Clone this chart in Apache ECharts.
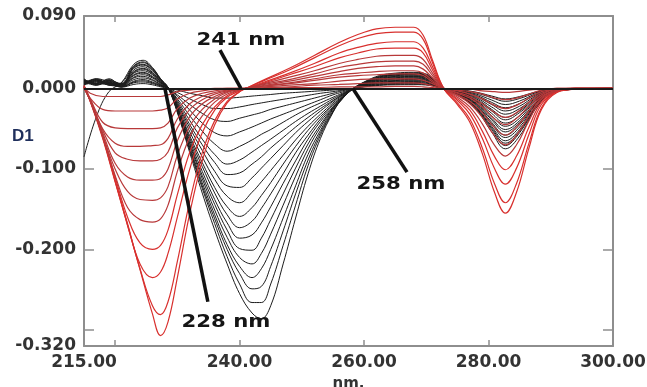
<!DOCTYPE html>
<html><head><meta charset="utf-8">
<script src="https://cdn.jsdelivr.net/npm/echarts@6/dist/echarts.min.js"></script>
<style>html,body{margin:0;padding:0;background:#fff}#c{width:647px;height:387px}</style>
</head><body><div id="c"></div>
<script>
const xTickValues = [220, 240, 260, 280];
const xLabelValues = [215, 240, 260, 280, 300];
const yTickValues = [-0.3, -0.2, -0.1];
const yLabelValues = [0.09, 0, -0.1, -0.2, -0.32];

const wavelengthsRed = [215, 216, 218, 220, 222, 224, 226, 227.3, 228.5, 230, 232, 234, 236, 238, 240, 241, 244, 248, 252, 256, 259, 262, 265, 268, 269.5, 271, 272.8, 275, 277, 279, 281, 282.7, 284.5, 286.5, 288.5, 291, 294, 300];
const redCurves = [
 [.004,-.015,-.06,-.115,-.17,-.225,-.28,-.307,-.29,-.235,-.155,-.09,-.045,-.018,-.004, 0,.011,.025,.041,.057,.067,.074,.076,.076,.066,.035,0, -.020,-.042,-.081,-.130,-.155,-.129,-.074,-.026,-.005,-.001,0],
 [.002,-.016,-.062,-.116,-.17,-.224,-.27,-.281,-.265,-.215,-.14,-.08,-.04,-.016,-.004, 0,.010,.023,.038,.053,.062,.068,.070,.070,.061,.032,0, -.018,-.038,-.074,-.119,-.142,-.118,-.068,-.024,-.004,-.001,0],
 [.003,-.014,-.06,-.114,-.168,-.218,-.235,-.228,-.205,-.16,-.1,-.055,-.027,-.011,-.003, 0,.008,.019,.031,.044,.051,.056,.058,.058,.050,.027,0, -.015,-.032,-.062,-.100,-.119,-.099,-.057,-.020,-.004,-.001,0],
 [0,-.015,-.058,-.11,-.16,-.192,-.2,-.195,-.176,-.132,-.079,-.045,-.023,-.009,-.002, 0,.007,.017,.027,.038,.044,.049,.050,.050,.044,.023,0, -.013,-.027,-.053,-.085,-.101,-.084,-.048,-.017,-.003,-.001,0],
 [.002,-.016,-.06,-.108,-.148,-.163,-.166,-.162,-.145,-.103,-.06,-.034,-.017,-.007,-.002, 0,.006,.014,.022,.031,.036,.040,.041,.041,.036,.019,0, -.011,-.023,-.044,-.071,-.084,-.070,-.040,-.014,-.003,0,0],
 [.001,-.015,-.058,-.1,-.128,-.138,-.139,-.136,-.122,-.083,-.047,-.026,-.013,-.005,-.001, 0,.005,.011,.018,.026,.030,.033,.034,.034,.030,.016,0, -.009,-.019,-.036,-.059,-.070,-.058,-.034,-.012,-.002,0,0],
 [.003,-.014,-.055,-.093,-.11,-.114,-.114,-.112,-.1,-.065,-.035,-.019,-.01,-.004,-.001, 0,.004,.009,.015,.021,.025,.027,.028,.028,.024,.013,0, -.008,-.016,-.030,-.049,-.058,-.048,-.028,-.010,-.002,0,0],
 [.002,-.015,-.052,-.08,-.088,-.09,-.09,-.088,-.079,-.049,-.026,-.014,-.007,-.003,-.001, 0,.003,.007,.012,.017,.019,.021,.022,.022,.019,.010,0, -.006,-.012,-.023,-.038,-.045,-.037,-.022,-.008,-.001,0,0],
 [.001,-.014,-.05,-.068,-.072,-.072,-.071,-.07,-.062,-.038,-.019,-.01,-.005,-.002,-.001, 0,.003,.006,.010,.014,.016,.017,.018,.018,.016,.008,0, -.005,-.010,-.019,-.030,-.036,-.030,-.017,-.006,-.001,0,0],
 [.002,-.013,-.042,-.049,-.05,-.05,-.05,-.049,-.043,-.025,-.012,-.006,-.003,-.001,0, 0,.002,.004,.006,.009,.011,.012,.012,.012,.010,.006,0, -.003,-.007,-.013,-.021,-.025,-.021,-.012,-.004,-.001,0,0],
 [.001,-.012,-.026,-.028,-.028,-.028,-.028,-.027,-.024,-.013,-.006,-.003,-.001,0,0, 0,.001,.002,.004,.005,.006,.007,.007,.007,.006,.003,0, -.002,-.004,-.007,-.012,-.014,-.012,-.007,-.002,0,0,0],
 [.002,-.006,-.01,-.01,-.01,-.01,-.01,-.01,-.008,-.004,-.002,-.001,0,0,0, 0,0,.001,.001,.002,.002,.002,.0025,.0025,.002,.001,0, -.001,-.001,-.003,-.004,-.005,-.004,-.002,-.001,0,0,0]
];

const wavelengthsBlack = [215, 217, 219, 221, 223, 224.5, 226, 227.3, 228.5, 230, 232, 234, 236, 238, 240, 242, 243.5, 245, 247, 249, 251, 253, 255, 256.5, 258.3, 260, 262.5, 265, 268, 270.5, 272.5, 275, 278, 280.5, 282.7, 285, 287.5, 290, 294, 300];
const blackCurves = [
 [-.085,-.035,-.004,.007,.03,.035,.026,.012,.001, -.03,-.08,-.13,-.176,-.218,-.255,-.279,-.286,-.27,-.218,-.161,-.106,-.062,-.03,-.012,0, .008,.016,.019,.02,.016,0, -.0075,-.026,-.054,-.075,-.059,-.026,-.007,-.001,0],
 [.006,.011,.004,.007,.028,.033,.025,.012,.001, -.029,-.077,-.124,-.168,-.209,-.243,-.266,-.266,-.243,-.195,-.145,-.096,-.058,-.029,-.013,0, .0076,.015,.018,.019,.015,0, -.007,-.025,-.051,-.071,-.055,-.025,-.006,-.001,0],
 [.009,.007,.01,.006,.027,.032,.024,.011,.001, -.028,-.075,-.121,-.162,-.2,-.23,-.249,-.246,-.221,-.177,-.131,-.089,-.055,-.028,-.013,0, .0072,.0144,.017,.018,.0144,0, -.007,-.024,-.049,-.068,-.053,-.024,-.006,-.001,0],
 [.012,.005,.008,.006,.026,.03,.023,.011,.001, -.028,-.073,-.117,-.157,-.194,-.221,-.235,-.224,-.2,-.161,-.121,-.082,-.052,-.026,-.012,0, .007,.014,.0166,.0175,.014,0, -.0065,-.023,-.047,-.065,-.051,-.023,-.006,-.001,0],
 [.004,.012,.006,.006,.025,.029,.022,.01,.001, -.026,-.07,-.112,-.151,-.185,-.21,-.218,-.205,-.181,-.145,-.109,-.075,-.048,-.025,-.012,0, .0066,.0133,.0158,.0166,.0133,0, -.006,-.021,-.044,-.061,-.048,-.021,-.0055,-.001,0],
 [.008,.009,.005,.005,.023,.027,.02,.009,.001, -.025,-.068,-.108,-.144,-.176,-.199,-.201,-.186,-.163,-.131,-.099,-.069,-.045,-.024,-.012,0, .0063,.0126,.0149,.0157,.0126,0, -.006,-.02,-.042,-.058,-.045,-.02,-.005,-.001,0],
 [.01,.006,.011,.005,.021,.025,.019,.009,.001, -.024,-.065,-.103,-.138,-.167,-.186,-.182,-.167,-.147,-.118,-.09,-.063,-.041,-.023,-.011,0, .006,.012,.0142,.0149,.012,0, -.0055,-.019,-.039,-.054,-.042,-.019,-.005,-.001,0],
 [.005,.01,.007,.005,.02,.024,.018,.008,.001, -.023,-.062,-.097,-.13,-.157,-.173,-.165,-.149,-.131,-.106,-.08,-.058,-.038,-.021,-.011,0, .0056,.0112,.0133,.014,.0112,0, -.005,-.018,-.037,-.051,-.04,-.018,-.0045,-.001,0],
 [.011,.004,.009,.004,.019,.022,.017,.008,.001, -.022,-.059,-.092,-.123,-.147,-.159,-.148,-.133,-.117,-.094,-.072,-.052,-.035,-.02,-.01,0, .0052,.0105,.0124,.0131,.0105,0, -.0047,-.016,-.034,-.047,-.037,-.016,-.004,-.0005,0],
 [.007,.011,.005,.004,.017,.02,.015,.007,.0005, -.02,-.054,-.085,-.113,-.134,-.142,-.129,-.116,-.102,-.083,-.064,-.047,-.032,-.018,-.009,0, .0049,.0098,.0116,.0122,.0098,0, -.0043,-.015,-.031,-.043,-.034,-.015,-.004,-.0005,0],
 [.009,.006,.012,.004,.016,.019,.014,.007,.0005, -.019,-.049,-.077,-.103,-.121,-.123,-.111,-.099,-.087,-.071,-.055,-.041,-.028,-.016,-.008,0, .0045,.009,.0106,.0112,.009,0, -.004,-.014,-.028,-.039,-.03,-.014,-.0035,-.0005,0],
 [.005,.009,.007,.003,.014,.017,.013,.006,.0005, -.017,-.045,-.07,-.092,-.107,-.105,-.094,-.085,-.074,-.061,-.048,-.036,-.025,-.015,-.008,0, .0041,.0082,.0098,.0103,.0082,0, -.0036,-.0126,-.026,-.036,-.028,-.0126,-.0032,-.0004,0],
 [.01,.005,.008,.003,.013,.015,.011,.005,.0005, -.015,-.04,-.063,-.082,-.094,-.089,-.079,-.071,-.063,-.052,-.041,-.031,-.022,-.013,-.007,0, .0038,.0075,.0089,.0094,.0075,0, -.0032,-.0112,-.023,-.032,-.025,-.0112,-.0029,-.0003,0],
 [.006,.01,.004,.003,.011,.013,.01,.0045,.0004, -.013,-.034,-.053,-.069,-.078,-.072,-.064,-.057,-.051,-.042,-.033,-.025,-.018,-.011,-.006,0, .0034,.0068,.0081,.0085,.0068,0, -.0028,-.0098,-.02,-.028,-.022,-.0098,-.0025,-.0003,0],
 [.008,.004,.01,.002,.009,.011,.008,.004,.0003, -.01,-.027,-.043,-.055,-.059,-.054,-.048,-.043,-.038,-.032,-.026,-.02,-.014,-.008,-.0045,0, .003,.0059,.007,.0074,.0059,0, -.0024,-.0084,-.0173,-.024,-.0187,-.0084,-.0022,-.0002,0],
 [.004,.008,.006,.002,.008,.0095,.007,.0033,.0003, -.008,-.02,-.031,-.039,-.041,-.037,-.033,-.03,-.026,-.022,-.018,-.014,-.01,-.006,-.003,0, .0026,.0051,.0061,.0064,.0051,0, -.002,-.007,-.0144,-.02,-.0156,-.007,-.0018,-.0002,0],
 [.011,.006,.005,.002,.007,.008,.006,.003,.0002, -.005,-.013,-.02,-.025,-.025,-.023,-.02,-.018,-.016,-.0135,-.011,-.0085,-.006,-.004,-.002,0, .0022,.0044,.0052,.0055,.0044,0, -.0016,-.0056,-.0115,-.016,-.0125,-.0056,-.0014,-.0002,0],
 [.007,.012,.008,.0015,.005,.006,.0045,.002,.0002, -.002,-.006,-.009,-.012,-.012,-.011,-.0095,-.0085,-.0075,-.006,-.005,-.004,-.003,-.002,-.001,0, .0019,.0038,.0045,.0047,.0038,0, -.0013,-.0046,-.0094,-.013,-.0101,-.0046,-.0012,-.0001,0]
];

const labelFont = 'DejaVu Sans';
const axisGray = '#8e8e8e';

const series = [];
blackCurves.forEach((vals, k) => {
  const s = {
    type: 'line', name: 'black' + (k + 1), showSymbol: false, smooth: 0.4, silent: true,
    data: wavelengthsBlack.map((w, i) => [w, vals[i]]),
    lineStyle: { color: '#1c1c1c', width: 1 }, z: 2
  };
  if (k === 0) {
    s.markLine = { silent: true, symbol: 'none', label: { show: false },
      lineStyle: { color: '#1a1a1a', width: 1.8, type: 'solid' }, data: [{ yAxis: 0 }] };
  }
  series.push(s);
});
redCurves.forEach((vals, k) => {
  series.push({
    type: 'line', name: 'red' + (k + 1), showSymbol: false, smooth: 0.4, silent: true,
    data: wavelengthsRed.map((w, i) => [w, vals[i]]),
    lineStyle: { color: k < 4 ? '#d8302e' : '#b8393a', width: 1.2 }, z: 3
  });
});
series.push({
  type: 'line', name: 'annotations', data: [], silent: true, z: 6,
  markLine: {
    silent: true, symbol: 'none', label: { show: false },
    lineStyle: { color: '#111', width: 3.5, type: 'solid' },
    data: [
      [{ coord: [236.85, 0.0477] }, { coord: [240.2, 0] }],
      [{ coord: [258.2, 0] }, { coord: [266.9, -0.104] }],
      [{ coord: [228.0, 0] }, { coord: [234.9, -0.265] }]
    ]
  }
});

function annot(text, x, y) {
  return { type: 'text', x: x, y: y, scaleX: 1.18, z: 10,
    style: { text: text, font: 'bold 18px "DejaVu Sans"', fill: '#151515',
      textAlign: 'center', textVerticalAlign: 'middle', align: 'center', verticalAlign: 'middle' } };
}

const chart = echarts.init(document.getElementById('c'), null, { renderer: 'canvas' });
const xBase = {
  type: 'value', min: 215, max: 300,
  axisLine: { show: true, onZero: false, lineStyle: { color: axisGray, width: 2 } },
  axisTick: { show: true, inside: true, length: 6, customValues: xTickValues, lineStyle: { color: axisGray, width: 1.5 } },
  splitLine: { show: false }
};
const yBase = {
  type: 'value', min: -0.32, max: 0.09,
  axisLine: { show: true, onZero: false, lineStyle: { color: axisGray, width: 2 } },
  axisTick: { show: true, inside: true, length: 10, customValues: yTickValues, lineStyle: { color: axisGray, width: 1.5 } },
  splitLine: { show: false }
};
chart.setOption({
  animation: false,
  backgroundColor: '#fff',
  grid: { left: 84, right: 34, top: 16, bottom: 41, containLabel: false, outerBoundsMode: 'none' },
  xAxis: [
    Object.assign({}, xBase, {
      position: 'bottom', name: 'nm.', nameLocation: 'middle', nameGap: 31,
      nameTextStyle: { color: '#333', fontFamily: labelFont, fontWeight: 'bold', fontSize: 15 },
      axisLabel: { show: true, customValues: xLabelValues, margin: 8, color: '#333', fontFamily: labelFont, fontWeight: 'bold', fontSize: 17,
        formatter: v => Number(v).toFixed(2) }
    }),
    Object.assign({}, xBase, { position: 'top', axisLabel: { show: false } })
  ],
  yAxis: [
    Object.assign({}, yBase, {
      position: 'left',
      axisLabel: { show: true, customValues: yLabelValues, margin: 8, color: '#333', fontFamily: labelFont, fontWeight: 'bold', fontSize: 17,
        formatter: v => Number(v).toFixed(3) }
    }),
    Object.assign({}, yBase, { position: 'right', axisLabel: { show: false } })
  ],
  graphic: [
    { type: 'text', x: 12, y: 136, z: 10, style: { text: 'D1', font: 'bold 17px "Liberation Sans"', fill: '#1f2f5c', textAlign: 'left', textVerticalAlign: 'middle', align: 'left', verticalAlign: 'middle' } },
    annot('241 nm', 241, 40),
    annot('258 nm', 401, 184),
    annot('228 nm', 226, 322)
  ],
  series: series
});
</script>
</body></html>
